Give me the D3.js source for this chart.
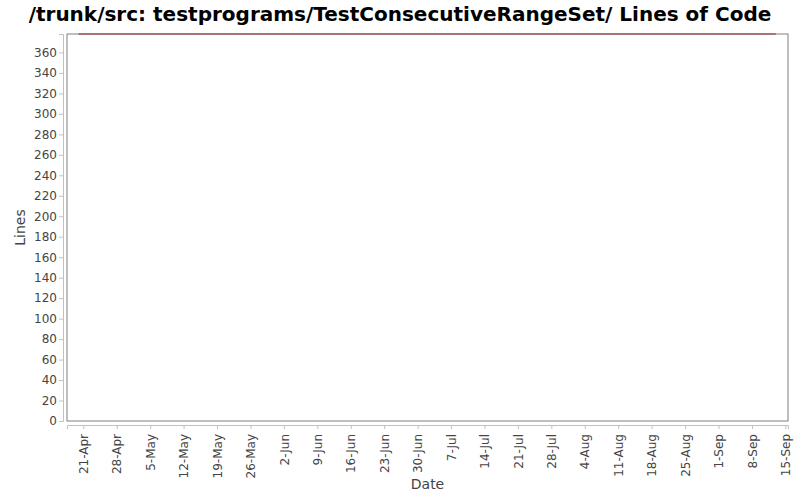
<!DOCTYPE html>
<html>
<head>
<meta charset="utf-8">
<script src="https://cdn.jsdelivr.net/npm/d3@7"></script>
<style>
  body { margin: 0; background: #fff; }
  svg { display: block; font-family: "DejaVu Sans", sans-serif; }
</style>
</head>
<body>
<svg id="chart" width="800" height="500"></svg>
<script>
// data
var fechas = ["2013-04-20", "2013-09-13"];
var lineas = [378, 378];
var titulo = "/trunk/src: testprograms/TestConsecutiveRangeSet/ Lines of Code";

var parse = d3.utcParse("%Y-%m-%d");
var datos = fechas.map(function (f, i) { return { fecha: parse(f), valor: lineas[i] }; });

var svg = d3.select("#chart");
var izq = 67, der = 788, arriba = 34, abajo = 421;

var x = d3.scaleUtc()
    .domain([new Date(Date.UTC(2013, 3, 17, 14, 10)), new Date(Date.UTC(2013, 8, 15, 13, 12))])
    .range([izq, der]);
var y = d3.scaleLinear().domain([0, 378]).range([abajo, arriba]);

// titulo
svg.append("text")
    .attr("x", 400).attr("y", 21)
    .attr("text-anchor", "middle")
    .style("font-size", "20px").style("font-weight", "bold")
    .text(titulo);

// marco del grafico
svg.append("rect")
    .attr("x", izq).attr("y", arriba)
    .attr("width", der - izq).attr("height", abajo - arriba)
    .attr("fill", "#fff").attr("stroke", "#808080").attr("stroke-width", 1);

// eje y
var ejeY = svg.append("g")
    .attr("transform", "translate(" + (izq - 4) + ",0)")
    .call(d3.axisLeft(y).tickValues(d3.range(0, 361, 20)).tickSize(4).tickPadding(2));
ejeY.select(".domain").attr("stroke", "#c0c0c0");
ejeY.selectAll(".tick line").attr("stroke", "#c0c0c0");
ejeY.selectAll("text").attr("fill", "#444").style("font-size", "12px").style("font-family", "DejaVu Sans");

// eje x
var ejeX = svg.append("g")
    .attr("transform", "translate(0," + (abajo + 4) + ")")
    .call(d3.axisBottom(x).ticks(d3.utcSunday.every(1)).tickFormat(d3.utcFormat("%-d-%b")).tickSize(4));
ejeX.select(".domain").attr("stroke", "#c0c0c0");
ejeX.selectAll(".tick line").attr("stroke", "#c0c0c0");
ejeX.selectAll("text")
    .attr("fill", "#444").style("font-size", "12px").style("font-family", "DejaVu Sans")
    .attr("text-anchor", "end")
    .attr("transform", "rotate(-90)")
    .attr("x", -9).attr("y", 0).attr("dy", "0.35em");

// etiquetas de ejes
svg.append("text")
    .attr("transform", "translate(25," + ((arriba + abajo) / 2) + ") rotate(-90)")
    .attr("text-anchor", "middle")
    .attr("fill", "#444")
    .style("font-size", "14px")
    .text("Lines");
svg.append("text")
    .attr("x", (izq + der) / 2).attr("y", 489)
    .attr("text-anchor", "middle")
    .attr("fill", "#444")
    .style("font-size", "14px")
    .text("Date");

// linea de datos
svg.append("path")
    .datum(datos)
    .attr("fill", "none")
    .attr("stroke", "#8e2b2b")
    .attr("stroke-width", 1.2)
    .attr("d", d3.line().x(function (d) { return x(d.fecha); }).y(function (d) { return y(d.valor); }));
</script>
</body>
</html>
